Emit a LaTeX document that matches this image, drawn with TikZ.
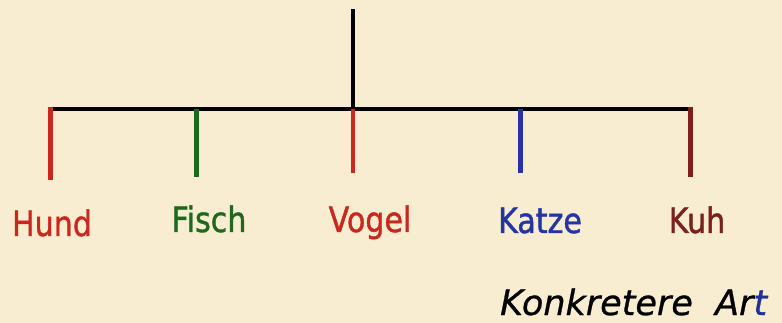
\documentclass[tikz,border=0pt]{standalone}
\usepackage{fontspec}
\setmainfont{DejaVu Sans}
\newfontfamily\labelfont[FakeStretch=0.86,FakeBold=1.2]{DejaVu Sans}
\newfontfamily\artfont[FakeBold=0.8]{DejaVu Sans}
\definecolor{bg}{RGB}{248,237,208}
\definecolor{hundc}{RGB}{200,40,30}
\definecolor{fischc}{RGB}{30,105,30}
\definecolor{vogelc}{RGB}{200,40,30}
\definecolor{katzec}{RGB}{36,52,166}
\definecolor{kuhc}{RGB}{123,31,31}
\definecolor{artblue}{RGB}{32,48,160}
\begin{document}
\begin{tikzpicture}[x=1pt,y=-1pt,
  bar/.style={line width=4.8pt},
  lab/.style={font=\labelfont\fontsize{35}{40}\selectfont, anchor=base, inner sep=0pt}]
\fill[bg] (0,0) rectangle (782,323);
\useasboundingbox (0,0) rectangle (782,323);
% trunk and crossbar
\coordinate (top) at (353,9);
\coordinate (mid) at (353,109);
\coordinate (hl) at (50.5,109);
\coordinate (hr) at (690.5,109);
\draw[bar] (top) -- (mid);
\draw[bar] (hl) -- (hr);
% drop coordinates
\coordinate (hundT) at (50.5,106.6);  \coordinate (hundB) at (50.5,180);
\coordinate (fischT) at (196.5,109);  \coordinate (fischB) at (196.5,177);
\coordinate (vogelT) at (353,109);    \coordinate (vogelB) at (353,173);
\coordinate (katzeT) at (520.5,109);  \coordinate (katzeB) at (520.5,173);
\coordinate (kuhT) at (690.5,106.6);  \coordinate (kuhB) at (690.5,177);
\draw[bar,hundc] (hundT) -- (hundB);
\draw[bar,fischc] (fischT) -- (fischB);
\draw[bar,vogelc] (vogelT) -- (vogelB);
\draw[bar,katzec] (katzeT) -- (katzeB);
\draw[bar,kuhc] (kuhT) -- (kuhB);
% labels
\node[lab,text=hundc] (hund) at (52,236) {Hund};
\node[lab,text=fischc] (fisch) at (209,232) {Fisch};
\node[lab,text=vogelc] (vogel) at (370,232) {Vogel};
\node[lab,text=katzec] (katze) at (540,233) {Katze};
\node[lab,text=kuhc] (kuh) at (697,233) {Kuh};
\node[anchor=base west, inner sep=0pt, font=\artfont\itshape\fontsize{35}{40}\selectfont] (art) at (500,315) {Konkretere\ \ Ar\textcolor{artblue}{t}};
\end{tikzpicture}
\end{document}
